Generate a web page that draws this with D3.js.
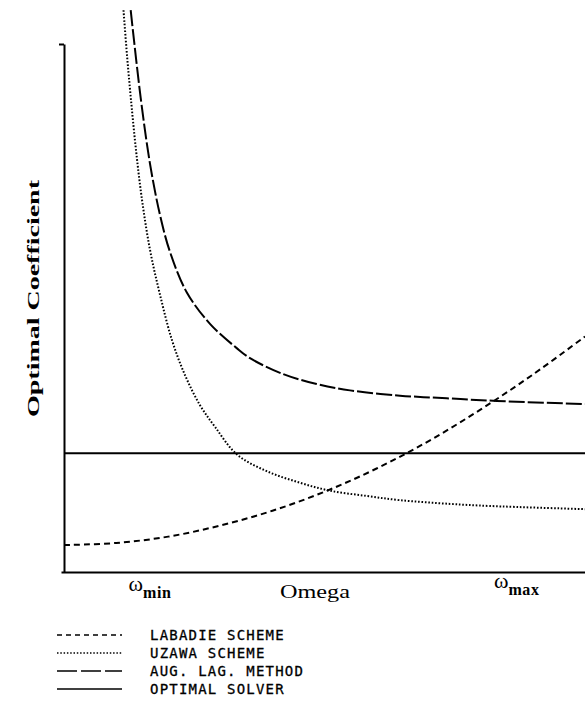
<!DOCTYPE html>
<html>
<head>
<meta charset="utf-8">
<script src="https://cdn.jsdelivr.net/npm/d3@7"></script>
<style>
  body { margin: 0; background: #fff; }
  svg { display: block; }
</style>
</head>
<body>
<div id="chart"></div>
<script>
// series (omega in arbitrary units 0..10, coefficient 0..10)
const labadieOmega = [0, 1, 2, 3, 4, 5, 6, 7, 8, 9, 10]
const labadieCoef  = [0.51, 0.55, 0.67, 0.88, 1.16, 1.52, 1.96, 2.48, 3.08, 3.74, 4.46]

const uzawaOmega = [1.142, 1.209, 1.286, 1.382, 1.497, 1.651, 1.843, 2.073, 2.322, 2.61, 2.898, 3.315, 3.891, 4.53, 5.106, 5.81, 6.449, 7.409, 8.177, 10]
const uzawaCoef  = [10.64, 9.79, 8.94, 7.99, 7.05, 6.10, 5.25, 4.39, 3.73, 3.16, 2.75, 2.23, 1.91, 1.69, 1.54, 1.44, 1.36, 1.29, 1.25, 1.19]

const augLagOmega = [1.28, 1.472, 1.651, 1.843, 2.035, 2.355, 2.802, 3.315, 3.57, 4.203, 4.85, 5.489, 6.449, 7.345, 8.305, 10]
const augLagCoef  = [10.64, 8.98, 7.73, 6.76, 6.06, 5.30, 4.70, 4.24, 4.05, 3.75, 3.56, 3.44, 3.34, 3.29, 3.24, 3.18]

const optimalOmega = [0, 10]
const optimalCoef  = [2.25, 2.25]

const xTickValues = [1.65, 8.69]
const xTickSubs   = ['min', 'max']

const legendLabels = ['LABADIE SCHEME', 'UZAWA SCHEME', 'AUG. LAG. METHOD', 'OPTIMAL SOLVER']

const width = 585
const height = 701
const margin = {top: 44, right: 0, bottom: 129, left: 64}

const serif = '"Liberation Serif", "DejaVu Serif", serif'

const svg = d3.select('#chart')
  .append('svg')
    .attr('width', width)
    .attr('height', height)

const x = d3.scaleLinear()
  .domain([0, 10])
  .range([margin.left, width - margin.right])

const y = d3.scaleLinear()
  .domain([0, 10])
  .range([height - margin.bottom, margin.top])

// axes
svg.append('g')
  .attr('transform', 'translate(' + margin.left + ',0)')
  .call(d3.axisLeft(y).tickValues([10]).tickFormat('').tickSize(5).tickSizeOuter(0))
  .call(g => g.selectAll('path, line').attr('stroke', '#000').attr('stroke-width', 2))

svg.append('g')
  .attr('transform', 'translate(0,' + (height - margin.bottom) + ')')
  .call(d3.axisBottom(x.copy().range([margin.left - 3, width])).tickValues([]).tickSizeOuter(0))
  .call(g => g.selectAll('path').attr('stroke', '#000').attr('stroke-width', 2))

// omega_min / omega_max labels
const xl = svg.append('g')
  .selectAll('text')
  .data(xTickValues)
  .join('text')
    .attr('x', d => x(d))
    .attr('y', (d, i) => i === 0 ? 591 : 588)
    .attr('text-anchor', 'middle')
    .attr('font-family', serif)
    .attr('fill', '#000')

xl.append('tspan')
  .attr('font-size', 22)
  .text('ω')
xl.append('tspan')
  .attr('font-size', 16)
  .attr('font-weight', 'bold')
  .attr('letter-spacing', 0.6)
  .attr('dy', 7)
  .text((d, i) => xTickSubs[i])

svg.append('text')
  .attr('x', 280)
  .attr('y', 598)
  .attr('font-family', serif)
  .attr('font-size', 18)
  .attr('textLength', 70)
  .attr('lengthAdjust', 'spacingAndGlyphs')
  .text('Omega')

svg.append('text')
  .attr('transform', 'translate(39,' + 417 + ') rotate(-90)')
  .attr('font-family', serif)
  .attr('font-weight', 'bold')
  .attr('font-size', 16)
  .attr('textLength', 237)
  .attr('lengthAdjust', 'spacingAndGlyphs')
  .text('Optimal Coefficient')

// curves
const line = d3.line()
  .x(d => x(d[0]))
  .y(d => y(d[1]))
  .curve(d3.curveCatmullRom.alpha(0.5))

const series = [
  {omega: labadieOmega, coef: labadieCoef, dash: '6,4', legendDash: '5,4'},
  {omega: uzawaOmega, coef: uzawaCoef, dash: '1.6,1.8', legendDash: '1.5,1.8'},
  {omega: augLagOmega, coef: augLagCoef, dash: '16,3', legendDash: '20,4'},
  {omega: optimalOmega, coef: optimalCoef, dash: null, legendDash: null}
]

svg.append('g')
  .selectAll('path')
  .data(series)
  .join('path')
    .attr('fill', 'none')
    .attr('stroke', '#000')
    .attr('stroke-width', 2)
    .attr('stroke-dasharray', d => d.dash)
    .attr('d', d => line(d.omega.map((o, i) => [o, d.coef[i]])))

// legend
const legend = svg.append('g')
  .selectAll('g')
  .data(series)
  .join('g')
    .attr('transform', (d, i) => 'translate(57,' + (635 + i * 18) + ')')

legend.append('line')
  .attr('x1', 0)
  .attr('x2', 65)
  .attr('stroke', '#000')
  .attr('stroke-width', 1.5)
  .attr('stroke-dasharray', d => d.legendDash)

legend.append('text')
  .attr('x', 93)
  .attr('y', 5)
  .attr('font-family', '"DejaVu Sans Mono", monospace')
  .attr('font-size', 14)
  .attr('letter-spacing', 1.2)
  .attr('stroke', '#000')
  .attr('stroke-width', 0.3)
  .text((d, i) => legendLabels[i])
</script>
</body>
</html>
